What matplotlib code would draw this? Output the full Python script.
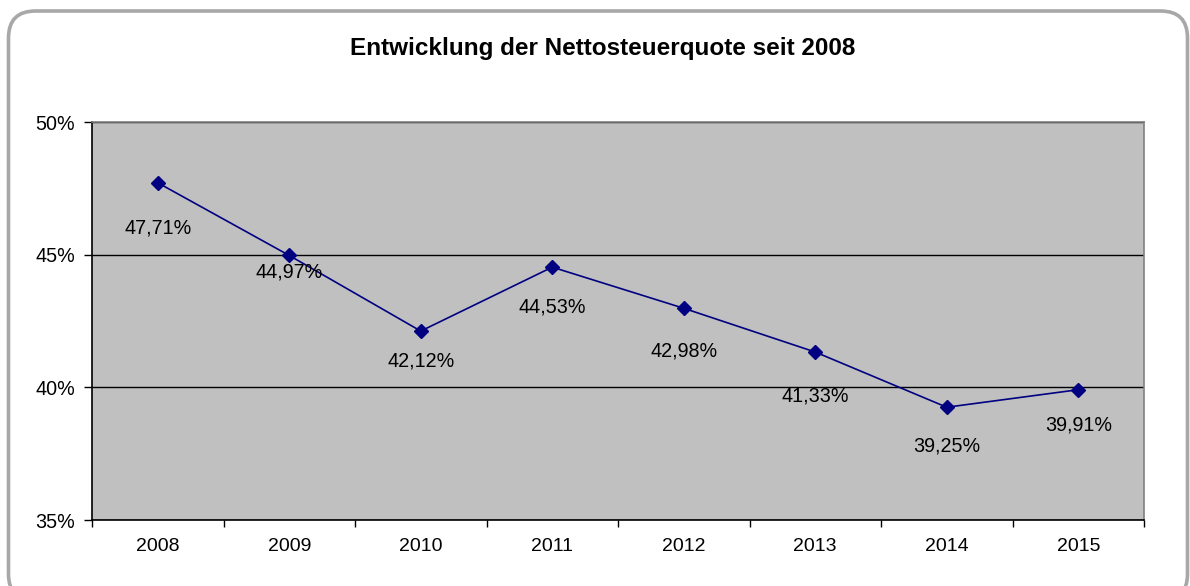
import matplotlib.pyplot as plt
from matplotlib.patches import FancyBboxPatch

years = ["2008", "2009", "2010", "2011", "2012", "2013", "2014", "2015"]
quote = [47.71, 44.97, 42.12, 44.53, 42.98, 41.33, 39.25, 39.91]
labels = ["47,71%", "44,97%", "42,12%", "44,53%", "42,98%", "41,33%", "39,25%", "39,91%"]
# vertical offset of each label below its point (pixels in the reference)
label_drop = [45, 17, 30, 40, 43, 44, 39, 35]

plt.rcParams['font.family'] = ['Liberation Sans', 'DejaVu Sans']

fig = plt.figure(figsize=(11.9, 5.86), dpi=100)
fig.patch.set_facecolor('white')

# rounded frame around the chart (bottom edge runs off the picture), in inches
frame = FancyBboxPatch((0.085, -0.15), 11.79, 5.9,
                       boxstyle="round,pad=0,rounding_size=0.27",
                       transform=fig.dpi_scale_trans, facecolor='none',
                       edgecolor='#a8a8a8', linewidth=2.6)
fig.patches.append(frame)

ax = fig.add_axes([92 / 1190, 1 - 520 / 586, (1144 - 92) / 1190, (520 - 122) / 586])
ax.set_facecolor('#c0c0c0')

x = list(range(len(years)))
ax.plot(x, quote, color='#000080', linewidth=1.2, marker='D', markersize=7, zorder=3)

for xi, yi, lab, d in zip(x, quote, labels, label_drop):
    ax.annotate(lab, (xi, yi), xytext=(0, -d * 0.72), textcoords='offset points',
                ha='center', va='center', fontsize=14.2, color='black')

ax.set_xlim(-0.5, len(years) - 0.5)
ax.set_ylim(35, 50)
ax.set_yticks([35, 40, 45, 50])
ax.set_yticklabels(["35%", "40%", "45%", "50%"])
ax.set_xticks([i - 0.5 for i in range(len(years) + 1)])
ax.set_xticklabels([])
ax.set_xticks(x, minor=True)
ax.set_xticklabels(years, minor=True)
ax.tick_params(axis='x', which='minor', length=0, pad=13, labelsize=14)
ax.tick_params(axis='x', which='major', length=5, width=1, direction='out', color='black')
ax.tick_params(axis='y', length=6, width=1, direction='out', labelsize=14.2, pad=6)

ax.grid(axis='y', color='black', linewidth=1)
ax.set_axisbelow(True)
for side in ['left', 'bottom']:
    ax.spines[side].set_color('black')
    ax.spines[side].set_linewidth(1.2)
for side in ['top', 'right']:
    ax.spines[side].set_color('#808080')
    ax.spines[side].set_linewidth(1.2)

fig.text(603 / 1190, 1 - 48 / 586, "Entwicklung der Nettosteuerquote seit 2008",
         ha='center', va='center', fontsize=17.5, fontweight='bold')

fig.savefig('out.png', dpi=100)
